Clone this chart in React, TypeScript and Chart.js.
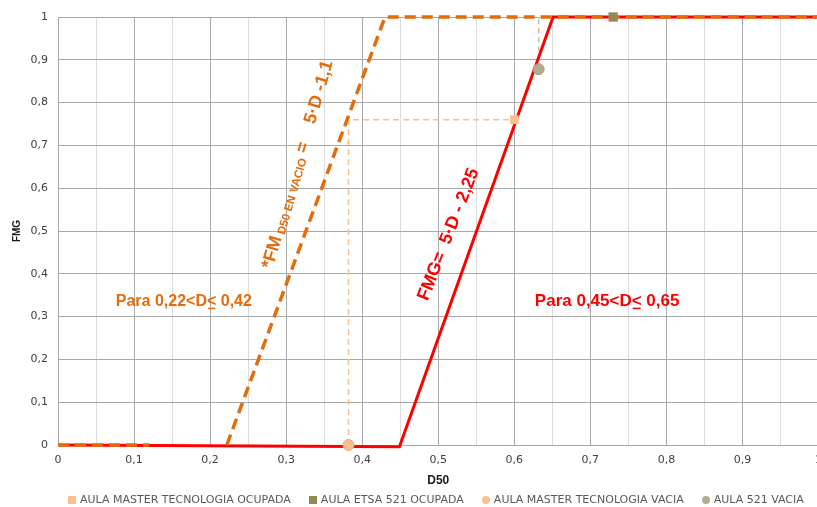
import React, { useEffect, useRef } from "react";
import { Chart, registerables } from "chart.js";

Chart.register(...registerables);

// ---- data ----
const vacioLineX = [0, 0.12, 0.17, 0.222, 0.43, 1];
const vacioLineY: (number | null)[] = [0, 0, null, 0, 1, 1];
const fmgLineX = [0, 0.449, 0.651, 1];
const fmgLineY = [0, -0.004, 1, 1];
const mtOcupadaX = [0.6];
const mtOcupadaY = [0.76];
const etsaOcupadaX = [0.73];
const etsaOcupadaY = [1];
const mtVaciaX = [0.382];
const mtVaciaY = [0];
const aula521VaciaX = [0.632];
const aula521VaciaY = [0.878];
const mtGuideX = [0.382, 0.382, 0.6];
const mtGuideY = [0, 0.76, 0.76];
const aula521GuideX = [0.632, 0.632];
const aula521GuideY = [0.878, 1];
const legendLabels = [
  "AULA MASTER TECNOLOGIA OCUPADA",
  "AULA ETSA 521 OCUPADA",
  "AULA MASTER TECNOLOGIA VACIA",
  "AULA 521 VACIA",
];
const xTitle = "D50";
const yTitle = "FMG";

const C_ORANGE = "#E46C0A";
const C_RED = "#FF0000";
const C_MT = "#FAC090";
const C_ETSA = "#948A54";
const C_521 = "#B3AC8F";

const FONT = "'Liberation Sans', Arial, sans-serif";
const TICK_FONT = "'DejaVu Sans', sans-serif";

const pts = (xs: number[], ys: (number | null)[]) => xs.map((x, i) => ({ x, y: ys[i] }));
const isTenth = (v: number) => Math.abs(Math.round(v * 100) % 10) === 0;
const fmt = (v: number) => {
  const r = Math.round(v * 100) / 100;
  if (Math.abs(r - Math.round(r)) < 1e-9) return String(Math.round(r));
  return r.toFixed(1).replace(".", ",");
};

const annotationPlugin = {
  id: "textAnnotations",
  afterDatasetsDraw(chart: any) {
    const { ctx, scales } = chart;
    const xs = scales.x, ys = scales.y;
    const px = (v: number) => xs.getPixelForValue(v);
    const py = (v: number) => ys.getPixelForValue(v);
    ctx.save();
    ctx.textBaseline = "alphabetic";
    ctx.textAlign = "left";

    const angO = Math.atan2(py(1) - py(0), px(0.43) - px(0.222)) - 0.07;
    const angR = Math.atan2(py(1) - py(0), px(0.651) - px(0.449)) + 0.03;
    const drawRot = (x: number, y: number, ang: number, color: string, parts: any[]) => {
      ctx.save();
      ctx.translate(x, y);
      ctx.rotate(ang);
      ctx.fillStyle = color;
      let cx = 0;
      for (const p of parts) {
        ctx.font = p.font;
        ctx.fillText(p.text, cx, p.dy || 0);
        cx += ctx.measureText(p.text).width;
      }
      ctx.restore();
    };
    drawRot(px(0.282), py(0.41), angO, C_ORANGE, [
      { text: "*FM", font: `bold 18px ${FONT}` },
      { text: " D50 EN VACIO", font: `bold 11.5px ${FONT}`, dy: 2 },
      { text: " =    5·D -1,1", font: `bold 18px ${FONT}` },
    ]);
    drawRot(px(0.486), py(0.335), angR, C_RED, [
      { text: "FMG=  5·D - 2,25", font: `bold 18px ${FONT}` },
    ]);

    const drawPara = (x: number, y: number, color: string, size: number, pre: string, post: string) => {
      ctx.font = `bold ${size}px ${FONT}`;
      ctx.fillStyle = color;
      ctx.strokeStyle = color;
      ctx.fillText(pre, x, y);
      const w1 = ctx.measureText(pre).width;
      ctx.fillText("<", x + w1, y);
      const w2 = ctx.measureText("<").width;
      ctx.lineWidth = 1.5;
      ctx.beginPath();
      ctx.moveTo(x + w1 + 1, y + 2.5);
      ctx.lineTo(x + w1 + w2 - 1, y + 2.5);
      ctx.stroke();
      ctx.fillText(post, x + w1 + w2, y);
    };
    drawPara(px(0.076), py(0.325), C_ORANGE, 16, "Para 0,22<D", " 0,42");
    drawPara(px(0.627), py(0.325), C_RED, 17, "Para 0,45<D", " 0,65");
    ctx.restore();
  },
};

export default function App() {
  const ref = useRef<HTMLCanvasElement | null>(null);
  useEffect(() => {
    if (!ref.current) return;
    const chart = new Chart(ref.current, {
      type: "scatter",
      data: {
        datasets: [
          {
            label: legendLabels[0],
            data: pts(mtOcupadaX, mtOcupadaY),
            pointStyle: "rect",
            pointRadius: 6.2,
            backgroundColor: C_MT,
            borderColor: C_MT,
            borderWidth: 0,
            clip: false,
          },
          {
            label: legendLabels[1],
            data: pts(etsaOcupadaX, etsaOcupadaY),
            pointStyle: "rect",
            pointRadius: 6.6,
            backgroundColor: C_ETSA,
            borderColor: C_ETSA,
            borderWidth: 0,
            clip: false,
          },
          {
            label: legendLabels[2],
            data: pts(mtVaciaX, mtVaciaY),
            pointStyle: "circle",
            pointRadius: 5.5,
            backgroundColor: C_MT,
            borderColor: "#EDAA78",
            borderWidth: 1,
            clip: false,
          },
          {
            label: legendLabels[3],
            data: pts(aula521VaciaX, aula521VaciaY),
            pointStyle: "circle",
            pointRadius: 5.5,
            backgroundColor: C_521,
            borderColor: "#A39C80",
            borderWidth: 1,
            clip: false,
          },
          {
            label: "vacio",
            data: pts(vacioLineX, vacioLineY),
            showLine: true,
            spanGaps: false,
            pointRadius: 0,
            borderColor: C_ORANGE,
            borderWidth: 3.5,
            borderDash: [11, 6],
            clip: false,
          },
          {
            label: "fmg",
            data: pts(fmgLineX, fmgLineY),
            showLine: true,
            pointRadius: 0,
            borderColor: C_RED,
            borderWidth: 3,
            clip: false,
          },
          {
            label: "guideMT",
            data: pts(mtGuideX, mtGuideY),
            showLine: true,
            pointRadius: 0,
            borderColor: C_MT,
            borderWidth: 1.5,
            borderDash: [6, 4],
            clip: false,
          },
          {
            label: "guide521",
            data: pts(aula521GuideX, aula521GuideY),
            showLine: true,
            pointRadius: 0,
            borderColor: "#C4BD97",
            borderWidth: 1.5,
            borderDash: [5, 4],
            clip: false,
          },
        ],
      },
      options: {
        animation: false,
        responsive: false,
        maintainAspectRatio: false,
        devicePixelRatio: 1,
        layout: { padding: { top: 17, right: 4, left: 0, bottom: 0 } },
        plugins: { legend: { display: false }, tooltip: { enabled: false } },
        scales: {
          x: {
            type: "linear",
            min: 0,
            max: 1,
            afterFit: (s: any) => {
              s.height = 62;
            },
            ticks: {
              stepSize: 0.05,
              autoSkip: false,
              maxRotation: 0,
              padding: 9,
              color: "#404040",
              font: { family: TICK_FONT, size: 11 },
              callback: (v: any) => (isTenth(Number(v)) ? fmt(Number(v)) : ""),
            },
            grid: {
              drawTicks: false,
              color: (c: any) => (c.tick && isTenth(c.tick.value) ? "#a9a9a9" : "#dcdcdc"),
              lineWidth: 1,
            },
            border: { color: "#a9a9a9" },
            title: {
              display: true,
              text: xTitle,
              color: "#1a1a1a",
              font: { family: FONT, size: 12, weight: "bold" },
              padding: { top: 0, bottom: 19 },
            },
          },
          y: {
            type: "linear",
            min: 0,
            max: 1,
            afterFit: (s: any) => {
              s.width = 58;
            },
            ticks: {
              stepSize: 0.1,
              padding: 10,
              color: "#404040",
              font: { family: TICK_FONT, size: 11 },
              callback: (v: any) => fmt(Number(v)),
            },
            grid: { drawTicks: false, color: "#a8a8a8", lineWidth: 1 },
            border: { color: "#a9a9a9" },
            title: {
              display: true,
              text: yTitle,
              color: "#1a1a1a",
              font: { family: FONT, size: 10, weight: "bold" },
              padding: { top: 11, bottom: 0 },
            },
          },
        },
      },
      plugins: [annotationPlugin],
    });
    return () => chart.destroy();
  }, []);

  const markers = [
    { color: C_MT, round: false },
    { color: C_ETSA, round: false },
    { color: C_MT, round: true },
    { color: C_521, round: true },
  ];

  return (
    <div
      style={{
        position: "fixed",
        left: 0,
        top: 0,
        width: 817,
        height: 507,
        overflow: "hidden",
        background: "#fff",
      }}
    >
      <canvas
        ref={ref}
        width={831}
        height={507}
        style={{ position: "absolute", left: 0, top: 0, width: 831, height: 507 }}
      />
      <div
        style={{
          position: "absolute",
          left: 68,
          top: 493,
          display: "flex",
          alignItems: "center",
          gap: 18,
          whiteSpace: "nowrap",
          fontFamily: TICK_FONT,
          fontSize: 11,
          lineHeight: "14px",
          color: "#595959",
        }}
      >
        {legendLabels.map((l, i) => (
          <div key={l} style={{ display: "flex", alignItems: "center" }}>
            <span
              style={{
                display: "inline-block",
                width: 8,
                height: 8,
                background: markers[i].color,
                borderRadius: markers[i].round ? "50%" : 0,
                marginRight: 4,
              }}
            />
            <span>{l}</span>
          </div>
        ))}
      </div>
    </div>
  );
}
